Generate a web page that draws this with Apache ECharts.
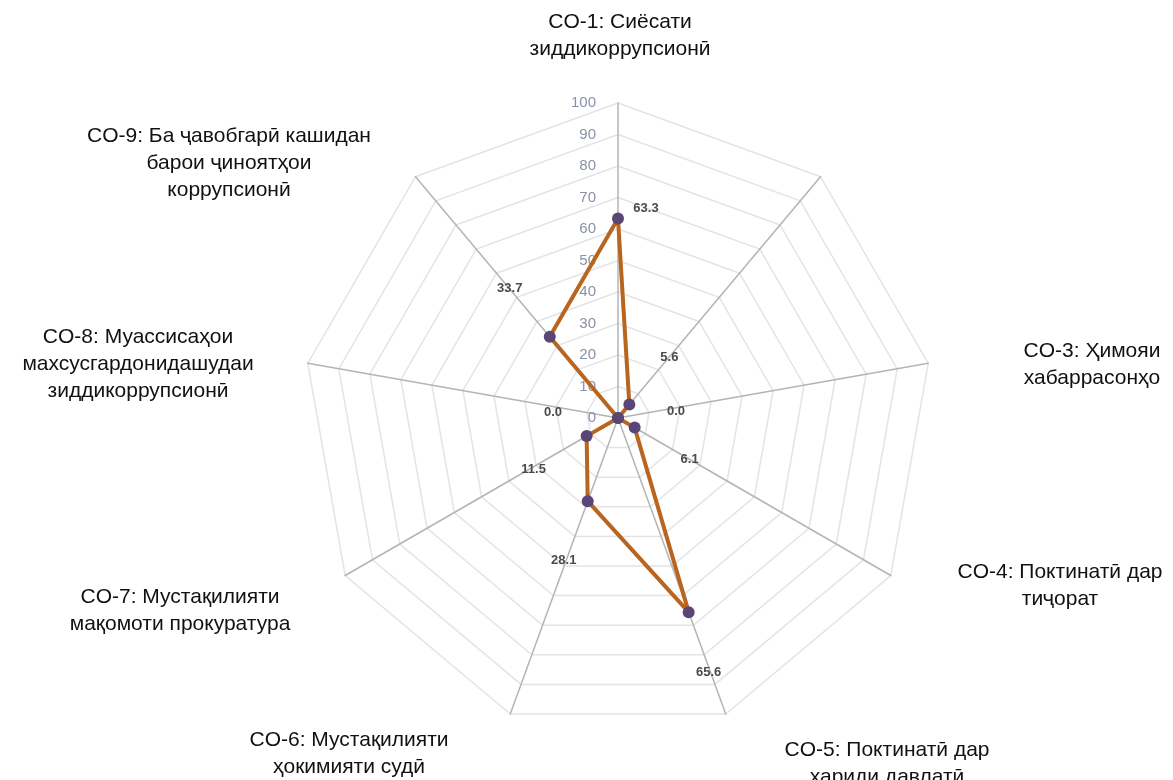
<!DOCTYPE html>
<html>
<head>
<meta charset="utf-8">
<script src="https://cdn.jsdelivr.net/npm/echarts@6/dist/echarts.min.js"></script>
<style>
	html,body{margin:0;padding:0;background:#fff;}
	#main{width:1173px;height:780px;}
</style>
</head>
<body>
<div id="main"></div>
<script>
	// indicator names, clockwise from the top (CO-2 has no visible name)
	var categories = [
		'CO-1: Сиёсати\nзиддикоррупсионӣ',
		'',
		'CO-3: Ҳимояи\nхабаррасонҳо',
		'CO-4: Поктинатӣ дар\nтиҷорат',
		'CO-5: Поктинатӣ дар\nхариди давлатӣ',
		'CO-6: Мустақилияти\nҳокимияти судӣ',
		'CO-7: Мустақилияти\nмақомоти прокуратура',
		'CO-8: Муассисаҳои\nмахсусгардонидашудаи\nзиддикоррупсионӣ',
		'CO-9: Ба ҷавобгарӣ кашидан\nбарои ҷиноятҳои\nкоррупсионӣ'
	];
	var values = [63.3, 5.6, 0.0, 6.1, 65.6, 28.1, 11.5, 0.0, 33.7];
	var axisMax = 100;
	var axisSplits = 10;

	// layout / style constants
	var center = [618, 418];
	var radius = 315;
	var namePos = [[620, 9], null, [1092, 338], [1060, 559], [887, 737], [349, 727], [180, 584], [138, 324], [229, 123]];
	var valueOffset = [[28, -10], [40, -47], [58, -7], [55, 32], [20, 60], [-24, 59], [-53, 33], [-65, -6], [-40, -48]];

	// echarts draws radar counter-clockwise, so feed indicators in reverse order
	var order = [0, 8, 7, 6, 5, 4, 3, 2, 1];

	var indicator = order.map(function(k, j){
		var ind = {name: categories[k], min: 0, max: axisMax};
		if (j === 0) ind.axisLabel = {show: true};
		return ind;
	});
	var seriesValues = order.map(function(k){ return values[k]; });

	var rich = {};
	order.forEach(function(k, j){
		var dx = valueOffset[k][0], dy = valueOffset[k][1];
		rich['d' + j] = {
			fontSize: 13,
			fontWeight: 'bold',
			fontFamily: 'Liberation Sans',
			color: '#4a4a4a',
			padding: [Math.max(0, 2 * dy), Math.max(0, -2 * dx), Math.max(0, -2 * dy), Math.max(0, 2 * dx)]
		};
	});

	var graphics = [];
	categories.forEach(function(name, k){
		if (!name || !namePos[k]) return;
		graphics.push({
			type: 'text',
			x: namePos[k][0],
			y: namePos[k][1],
			style: {
				text: name,
				textAlign: 'center',
				textVerticalAlign: 'top',
				fontFamily: 'Liberation Sans',
				fontSize: 21,
				lineHeight: 27,
				fill: '#111'
			}
		});
	});

	var myChart = echarts.init(document.getElementById('main'));
	myChart.setOption({
		animation: false,
		backgroundColor: '#fff',
		radar: {
			center: center,
			radius: radius,
			startAngle: 90,
			shape: 'polygon',
			splitNumber: axisSplits,
			indicator: indicator,
			axisName: {show: false},
			axisLine: {lineStyle: {color: '#b4b4b4', width: 1.5}},
			splitLine: {lineStyle: {color: '#e4e4e4', width: 1.5}},
			splitArea: {show: false},
			axisTick: {show: false},
			axisLabel: {
				show: false,
				showMinLabel: true,
				showMaxLabel: true,
				margin: 22,
				color: '#8a91a8',
				fontSize: 15,
				fontFamily: 'Liberation Sans'
			}
		},
		series: [{
			type: 'radar',
			symbol: 'circle',
			symbolSize: 12,
			itemStyle: {color: '#5a4676'},
			lineStyle: {color: '#b9641f', width: 4},
			label: {
				show: true,
				position: 'inside',
				formatter: function(p){
					return '{d' + p.dimensionIndex + '|' + Number(p.value).toFixed(1) + '}';
				},
				rich: rich
			},
			data: [{value: seriesValues}]
		}],
		graphic: graphics
	});
</script>
</body>
</html>
